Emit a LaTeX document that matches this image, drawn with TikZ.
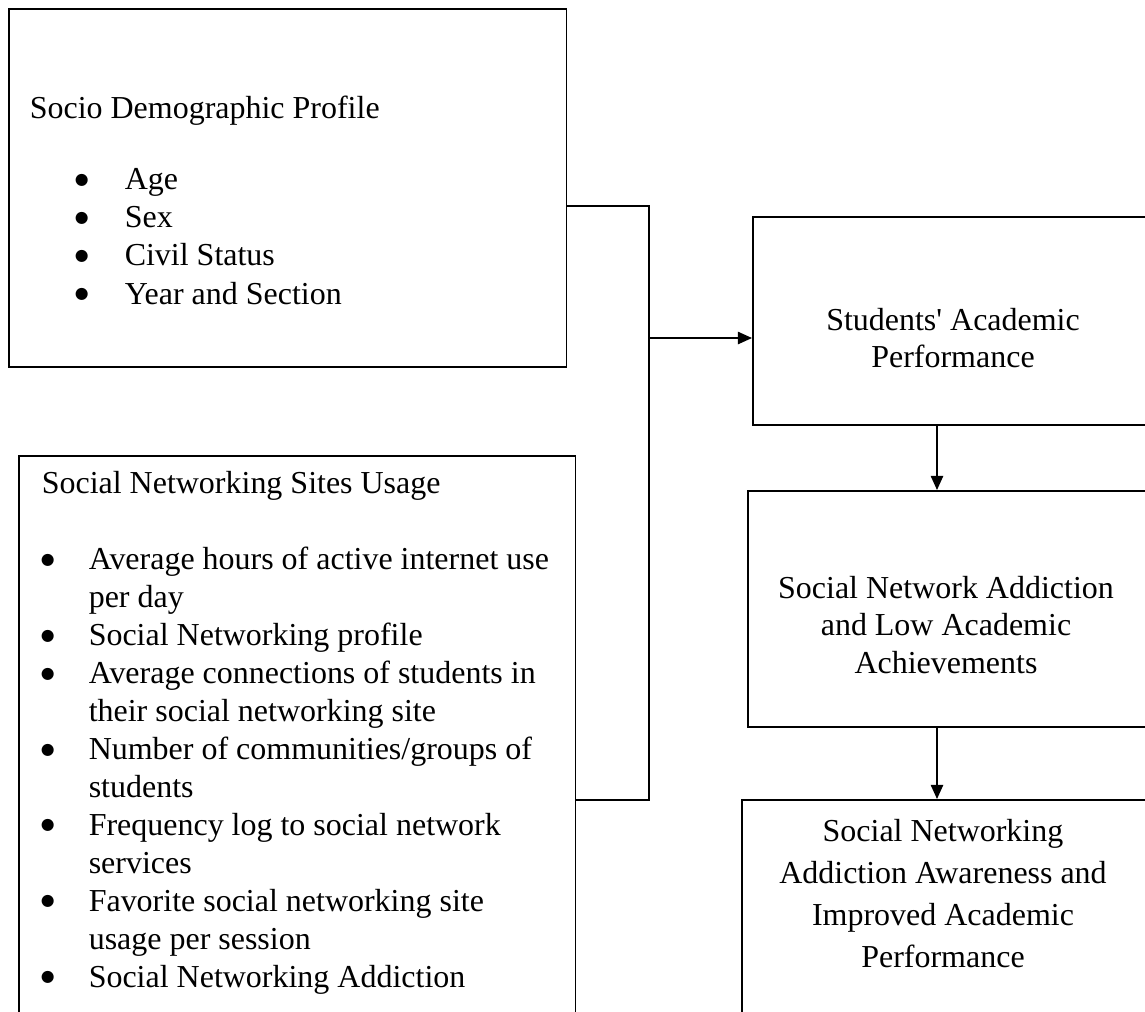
\documentclass[tikz,border=0pt]{standalone}
\usepackage{fontspec}
\setmainfont{Liberation Serif}
\newfontfamily\dotfont{DejaVu Sans}
\usetikzlibrary{arrows.meta}

\newdimen\pxu \pxu=0.5690551pt
\newcommand\blt{\raisebox{3pt}{\dotfont\fontsize{9}{9}\selectfont ●}}
\newcommand\sditem[1]{\makebox[95\pxu][l]{\hspace{45\pxu}\blt}#1}
\newcommand\snitem[1]{\makebox[47\pxu][l]{\hspace{-1\pxu}\blt}#1}
\newcommand\sncont[1]{\hspace*{47\pxu}#1}

\begin{document}
\begin{tikzpicture}[x=0.02cm,y=-0.02cm,line width=0.9pt,
  box/.style={draw,anchor=north west,inner sep=0pt},
  txt/.style={inner sep=0pt,font=\fontsize{18.2}{21.7}\selectfont},
  >={Triangle[length=8pt,width=7pt]}]
  \useasboundingbox (0,0) rectangle (1145,1011);
  \fill[white] (0,0) rectangle (1145,1011);
  \clip (0,0) rectangle (1145,1011);
  \node[box,minimum width=558\pxu,minimum height=358\pxu] (socio) at (8,8) {};
  \node[box,minimum width=557\pxu,minimum height=620\pxu] (usage) at (18,455) {};
  \node[box,minimum width=402\pxu,minimum height=208\pxu] (perf) at (752,216) {};
  \node[box,minimum width=400\pxu,minimum height=236\pxu] (addict) at (747,490) {};
  \node[box,minimum width=406\pxu,minimum height=300\pxu] (aware) at (741,799) {};
  \node[txt,anchor=base west,align=left] (sociotxt) at (29,304)
    {Socio Demographic Profile\\[19pt]\sditem{Age}\\\sditem{Sex}\\\sditem{Civil Status}\\\sditem{Year and Section}};
  \node[txt,anchor=base west,align=left,font=\fontsize{18.2}{21.6}\selectfont] (usagetxt) at (41,987)
    {Social Networking Sites Usage\\[21.6pt]
     \snitem{Average hours of active internet use}\\\sncont{per day}\\
     \snitem{Social Networking profile}\\
     \snitem{Average connections of students in}\\\sncont{their social networking site}\\
     \snitem{Number of communities/groups of}\\\sncont{students}\\
     \snitem{Frequency log to social network}\\\sncont{services}\\
     \snitem{Favorite social networking site}\\\sncont{usage per session}\\
     \snitem{Social Networking Addiction}};
  \node[txt,anchor=base,align=center,font=\fontsize{18.2}{20.5}\selectfont] (perftxt) at (953,367)
    {Students\textquotesingle{} Academic\\Performance};
  \node[txt,anchor=base,align=center,font=\fontsize{18.2}{21.3}\selectfont] (addicttxt) at (946,673)
    {Social Network Addiction\\and Low Academic\\Achievements};
  \node[txt,anchor=base,align=center,font=\fontsize{18.2}{23.9}\selectfont] (awaretxt) at (943,967)
    {Social Networking\\Addiction Awareness and\\Improved Academic\\Performance};
  \coordinate (jtop) at (649,206);
  \coordinate (jmid) at (649,338);
  \coordinate (jbot) at (649,800);
  \coordinate (dn) at (937,0);
  \draw (socio.east |- jtop) -- (jtop) -- (jbot) -- (usage.east |- jbot);
  \draw[->] (jmid) -- (jmid -| perf.west);
  \draw[->] (perf.south -| dn) -- (addict.north -| dn);
  \draw[->] (addict.south -| dn) -- (aware.north -| dn);
\end{tikzpicture}
\end{document}
